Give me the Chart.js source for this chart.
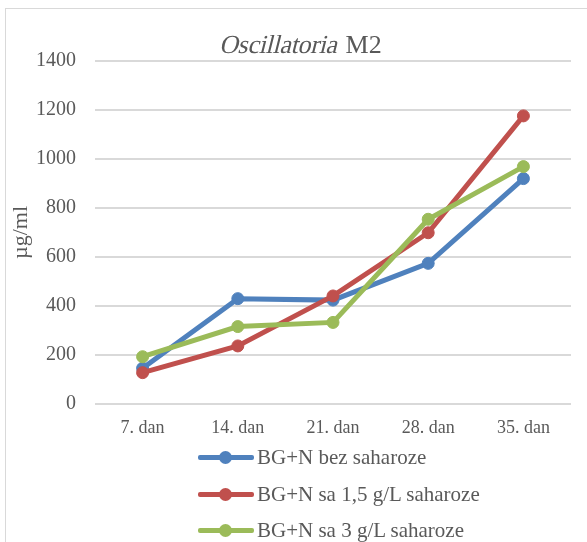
<!DOCTYPE html>
<html>
<head>
<meta charset="utf-8">
<script src="https://cdn.jsdelivr.net/npm/chart.js@4"></script>
<style>
    html, body { margin: 0; padding: 0; background: #fff; overflow: hidden; }
    #wrap { position: relative; width: 587px; height: 542px; overflow: hidden; }
    #frame { position: absolute; left: 5px; top: 8px; width: 700px; height: 700px; border: 1px solid #d9d9d9; }
    #box { position: absolute; left: 0; top: 0; width: 603px; height: 542px; }
    #title { position: absolute; left: 0; width: 603px; top: 29px; height: 31px; line-height: 31px; text-align: center;
        font-family: 'Liberation Serif', 'Times New Roman', serif; font-size: 26px; color: #595959; }
    #title .it { display: inline-block; font-style: normal; transform: skewX(-14deg); letter-spacing: -0.3px; }
    #legend { position: absolute; left: 198px; top: 0; font-family: 'Liberation Serif', 'Times New Roman', serif;
        font-size: 21px; color: #595959; }
    .item { position: absolute; left: 0; height: 24px; white-space: nowrap; }
    .line { position: absolute; left: 0; top: 10px; width: 56px; height: 5px; border-radius: 2px; }
    .dot { position: absolute; left: 21px; top: 6px; width: 13px; height: 13px; border-radius: 50%; }
    .txt { position: absolute; left: 59px; top: 0; line-height: 24px; }
</style>
</head>
<body>
<div id="wrap">
    <div id="frame"></div>
    <div id="box"><canvas id="chart"></canvas></div>
    <div id="title"><span class="it">Oscillatoria</span> M2</div>
    <div id="legend"></div>
</div>
<script>
const days = ['7. dan', '14. dan', '21. dan', '28. dan', '35. dan'];
const bezSaharoze = [146, 430, 424, 574, 920];
const sa15Saharoze = [128, 237, 441, 699, 1176];
const sa3Saharoze = [193, 316, 333, 754, 969];
const seriesNames = ['BG+N bez saharoze', 'BG+N sa 1,5 g/L saharoze', 'BG+N sa 3 g/L saharoze'];
const seriesColors = ['#4F81BD', '#C0504D', '#9BBB59'];
const yTicks = [0, 200, 400, 600, 800, 1000, 1200, 1400];

const serif = "'Liberation Serif', 'Times New Roman', serif";
const grey = '#595959';

const allData = [bezSaharoze, sa15Saharoze, sa3Saharoze];
const datasets = allData.map((d, i) => ({
    label: seriesNames[i],
    data: d,
    borderColor: seriesColors[i],
    backgroundColor: seriesColors[i],
    borderWidth: 5,
    pointRadius: 6,
    pointBorderWidth: 1,
    pointHoverRadius: 6,
    tension: 0,
    order: 3 - i
}));

const ctx = document.getElementById('chart');
new Chart(ctx, {
    type: 'line',
    data: { labels: days, datasets: datasets },
    options: {
        responsive: true,
        maintainAspectRatio: false,
        animation: false,
        layout: { padding: { top: 61, right: 32, bottom: 98, left: 0 } },
        scales: {
            x: {
                offset: true,
                grid: { display: false, drawTicks: false, offset: true },
                border: { display: false },
                ticks: { color: grey, padding: 13, font: { family: serif, size: 18 } },
                afterFit: (s) => { s.height = 40 }
            },
            y: {
                min: 0,
                max: yTicks[yTicks.length - 1],
                afterBuildTicks: (s) => { s.ticks = yTicks.map(v => ({ value: v })) },
                grid: { color: '#d9d9d9', lineWidth: 2, drawTicks: false },
                border: { display: false },
                ticks: { color: grey, padding: 19, font: { family: serif, size: 20 }, callback: (v) => String(v) },
                title: { display: true, text: 'µg/ml', color: grey, padding: { top: 8, bottom: 0 }, font: { family: serif, size: 22 } },
                afterFit: (s) => { s.width = 95 }
            }
        },
        plugins: {
            legend: { display: false },
            title: { display: false },
            tooltip: { enabled: false }
        }
    }
});

// legende
const legend = document.getElementById('legend');
const rowsY = [457, 494, 530];
seriesNames.forEach((name, i) => {
    const item = document.createElement('div');
    item.className = 'item';
    item.style.top = (rowsY[i] - 12) + 'px';
    item.innerHTML = '<div class="line" style="background:' + seriesColors[i] + '"></div>' +
        '<div class="dot" style="background:' + seriesColors[i] + '"></div>' +
        '<div class="txt">' + name + '</div>';
    legend.appendChild(item);
});
</script>
</body>
</html>
